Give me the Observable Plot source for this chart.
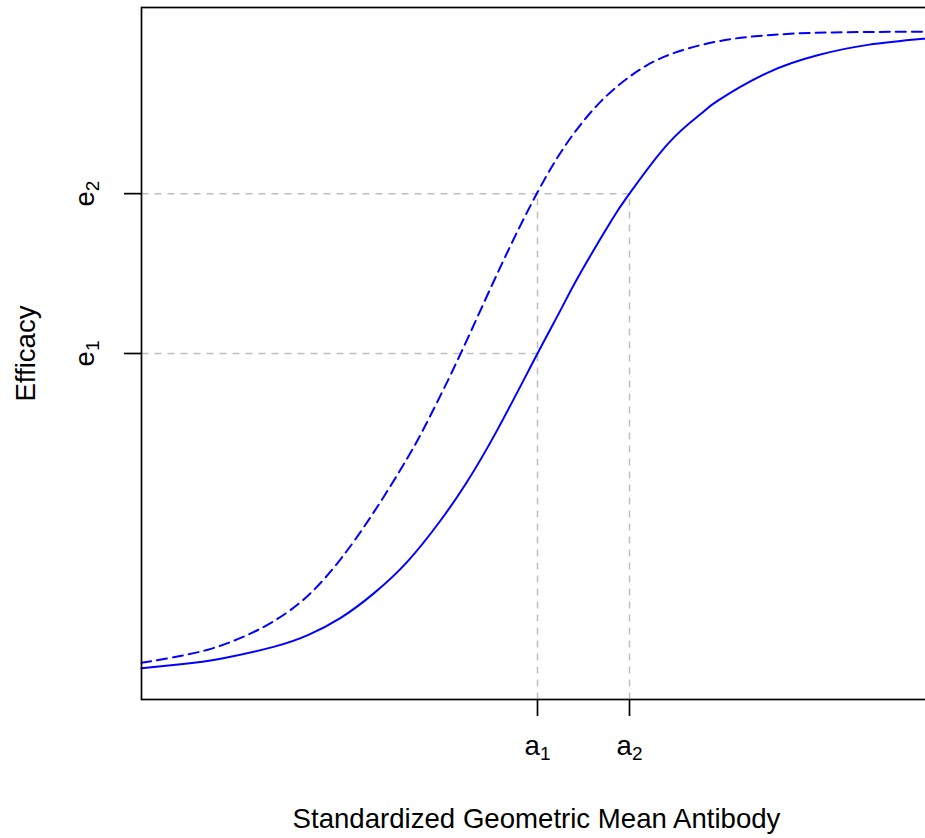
<!DOCTYPE html>
<html>
<head>
<meta charset="utf-8">
<script src="https://cdn.jsdelivr.net/npm/d3@7"></script>
<script src="https://cdn.jsdelivr.net/npm/@observablehq/plot@0.6"></script>
<style>
  html, body { margin: 0; padding: 0; background: white; overflow: hidden; }
  svg { max-width: none !important; }
</style>
</head>
<body>
<div id="chart"></div>
<script>
// ---- data ----
// solid curve (reference group)
const solidX = [0, 0.49, 0.99, 1.65, 2.08, 2.49, 2.9, 3.33, 3.74, 4.05, 4.45, 4.95, 5.24, 5.49, 5.89, 6.1, 6.58, 6.99, 7.2, 7.83, 8.45, 9.08, 9.8, 9.875];
const solidY = [0.045, 0.051, 0.059, 0.076, 0.093, 0.118, 0.153, 0.200, 0.259, 0.311, 0.390, 0.5, 0.563, 0.617, 0.695, 0.731, 0.803, 0.846, 0.865, 0.906, 0.931, 0.946, 0.955, 0.956];
// dashed curve (shifted group)
const dashX = [0, 0.4, 0.83, 1.24, 1.65, 2.08, 2.49, 2.9, 3.33, 3.61, 3.99, 4.49, 4.95, 5.33, 5.74, 6.15, 6.58, 7.2, 7.83, 8.65, 9.8, 9.875];
const dashY = [0.053, 0.061, 0.072, 0.089, 0.113, 0.150, 0.203, 0.270, 0.350, 0.410, 0.5, 0.626, 0.733, 0.806, 0.864, 0.904, 0.931, 0.951, 0.960, 0.964, 0.965, 0.965];
// tick values and labels
const aValues = [4.95, 6.1];
const aLabels = ["a_1", "a_2"];
const eValues = [0.5, 0.731];
const eLabels = ["e_1", "e_2"];
const xTitle = "Standardized Geometric Mean Antibody";
const yTitle = "Efficacy";
const xDomain = [0, 9.875];
const yDomain = [0, 1];

// ---- build tables ----
const solid = solidX.map((x, i) => ({x, y: solidY[i]}));
const dashed = dashX.map((x, i) => ({x, y: dashY[i]}));
const xTicks = aValues.map((v, i) => ({v, label: aLabels[i]}));
const yTicks = eValues.map((v, i) => ({v, label: eLabels[i]}));
// reference segments: e1 to a1, e2 to a2, verticals a1,a2 up to e2
const refs = [
  {x1: xDomain[0], y1: eValues[0], x2: aValues[0], y2: eValues[0]},
  {x1: xDomain[0], y1: eValues[1], x2: aValues[1], y2: eValues[1]},
  {x1: aValues[0], y1: yDomain[0], x2: aValues[0], y2: eValues[1]},
  {x1: aValues[1], y1: yDomain[0], x2: aValues[1], y2: eValues[1]}
];

const FONT = "'Liberation Sans', Arial, Helvetica, sans-serif";
const FS = 27.6;

const chart = Plot.plot({
  width: 940,
  height: 838,
  marginLeft: 141,
  marginRight: 9,
  marginTop: 7,
  marginBottom: 139,
  style: {fontFamily: FONT, background: "white", color: "black", maxWidth: "none"},
  x: {domain: xDomain},
  y: {domain: yDomain},
  marks: [
    Plot.link(refs, {x1: "x1", y1: "y1", x2: "x2", y2: "y2", stroke: "#bebebe", strokeWidth: 1.5, strokeDasharray: "7,6"}),
    Plot.line(solid, {x: "x", y: "y", stroke: "#0000ff", strokeWidth: 2, curve: "natural"}),
    Plot.line(dashed, {x: "x", y: "y", stroke: "#0000ff", strokeWidth: 2, strokeDasharray: "10,6", curve: "natural"}),
    Plot.frame({stroke: "black", strokeWidth: 1.7}),
    Plot.axisX({ticks: aValues, tickSize: 17, tickFormat: () => "", label: null, strokeWidth: 1.7}),
    Plot.axisY({ticks: eValues, tickSize: 17, tickFormat: () => "", label: null, strokeWidth: 1.7}),
    Plot.text(xTicks, {x: "v", text: "label", frameAnchor: "bottom", dy: 46.4, lineAnchor: "middle", textAnchor: "middle", fontSize: FS, fill: "black"}),
    Plot.text(yTicks, {y: "v", text: "label", frameAnchor: "left", dx: -56.6, rotate: -90, lineAnchor: "middle", textAnchor: "middle", fontSize: FS, fill: "black"}),
    Plot.text([xTitle], {text: d => d, frameAnchor: "bottom", dy: 119.2, lineAnchor: "middle", textAnchor: "middle", fontSize: FS, fill: "black"}),
    Plot.text([yTitle], {text: d => d, frameAnchor: "left", dx: -115, rotate: -90, lineAnchor: "middle", textAnchor: "middle", fontSize: FS, fill: "black"})
  ]
});
chart.style.maxWidth = "none";

// turn "a_1" into a with subscript 1
const ns = "http://www.w3.org/2000/svg";
chart.querySelectorAll("text").forEach(t => {
  const s = t.textContent;
  if (!s.includes("_")) return;
  const [base, sub] = s.split("_");
  while (t.firstChild) t.removeChild(t.firstChild);
  const t1 = document.createElementNS(ns, "tspan");
  t1.textContent = base;
  const t2 = document.createElementNS(ns, "tspan");
  t2.textContent = sub;
  t2.setAttribute("font-size", Math.round(FS * 0.7));
  t2.setAttribute("dy", 5);
  t.appendChild(t1);
  t.appendChild(t2);
});

document.getElementById("chart").appendChild(chart);
</script>
</body>
</html>
